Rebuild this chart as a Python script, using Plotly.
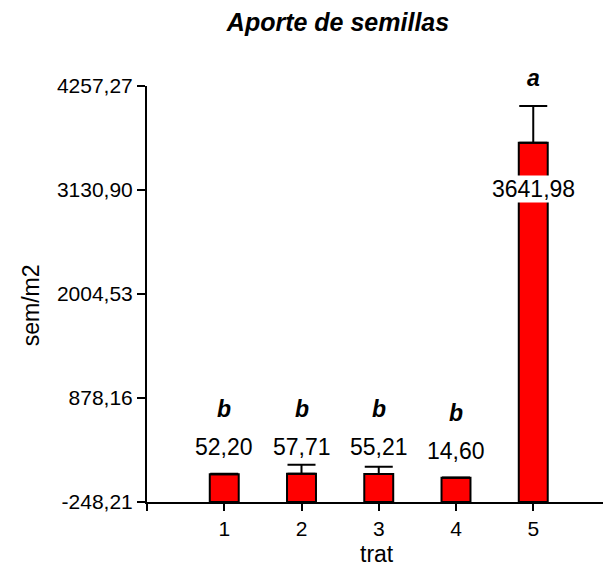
import plotly.graph_objects as go

# Treatment means of seed input (seeds per m2) with their error bars
trat = [1, 2, 3, 4, 5]
media = [52.20, 57.71, 55.21, 14.60, 3641.98]
error = [5, 97, 79, 3, 400]
letras = ["b", "b", "b", "b", "a"]

# Y axis ticks as printed (decimal comma)
y_ticks = [-248.21, 878.16, 2004.53, 3130.90, 4257.27]
y_tick_text = ["-248,21", "878,16", "2004,53", "3130,90", "4257,27"]
x_ticks = [0, 1, 2, 3, 4, 5]
x_tick_text = ["", "1", "2", "3", "4", "5"]

y_min, y_max = y_ticks[0], y_ticks[-1]
FONT = "Liberation Sans, Arial, sans-serif"


def fmt(v):
    return f"{v:.2f}".replace(".", ",")


fig = go.Figure()

# bars rise from the bottom of the value axis
fig.add_trace(go.Bar(
    x=trat,
    y=[v - y_min for v in media],
    base=y_min,
    width=0.375,
    marker=dict(color="#FF0000", line=dict(color="black", width=2)),
    error_y=dict(type="data", array=error, symmetric=False, arrayminus=[0] * len(error),
                 color="black", thickness=2, width=14),
    cliponaxis=False,
    showlegend=False,
    hoverinfo="skip",
))

annotations = []
for x, v, e, letra in zip(trat, media, error, letras):
    inside = v > (y_max - y_min) / 2
    annotations.append(dict(
        x=x, y=v, xref="x", yref="y", text=fmt(v), showarrow=False,
        yshift=-46 if inside else 27, yanchor="middle",
        font=dict(family=FONT, size=23, color="black"),
        bgcolor="white" if inside else None, borderpad=0,
    ))
    annotations.append(dict(
        x=x, y=v, xref="x", yref="y", text=f"<b><i>{letra}</i></b>", showarrow=False,
        yshift=65, yanchor="middle",
        font=dict(family=FONT, size=23, color="black"),
    ))

# axis titles
annotations.append(dict(
    x=(377 - 147) / 456, y=(501.7 - 554) / 416, xref="paper", yref="paper", text="trat",
    showarrow=False, xanchor="center", yanchor="middle",
    font=dict(family=FONT, size=23, color="black"),
))
annotations.append(dict(
    x=(31 - 147) / 456, y=(501.7 - 305) / 416, xref="paper", yref="paper", text="sem/m2",
    showarrow=False, textangle=-90, xanchor="center", yanchor="middle",
    font=dict(family=FONT, size=23, color="black"),
))

fig.update_layout(
    width=603, height=568,
    margin=dict(l=147, r=0, t=86, b=66, pad=0),
    paper_bgcolor="white", plot_bgcolor="white",
    title=dict(text="<b><i>Aporte de semillas</i></b>", x=338 / 603, xref="container",
               xanchor="center", y=1 - 22 / 568, yref="container", yanchor="middle",
               font=dict(family=FONT, size=25, color="black")),
    xaxis=dict(range=[0, 456 / 77.25], tickvals=x_ticks, ticktext=x_tick_text,
               showline=True, linecolor="black", linewidth=2,
               ticks="outside", ticklen=7, tickwidth=2, tickcolor="black",
               showgrid=False, zeroline=False,
               tickfont=dict(family=FONT, size=21, color="black")),
    yaxis=dict(range=[y_min, y_max], tickvals=y_ticks, ticktext=y_tick_text,
               showline=True, linecolor="black", linewidth=2,
               ticks="outside", ticklen=8, tickwidth=2, tickcolor="black",
               showgrid=False, zeroline=False,
               tickfont=dict(family=FONT, size=21, color="black")),
    annotations=annotations,
)

fig.write_html("out.html")
